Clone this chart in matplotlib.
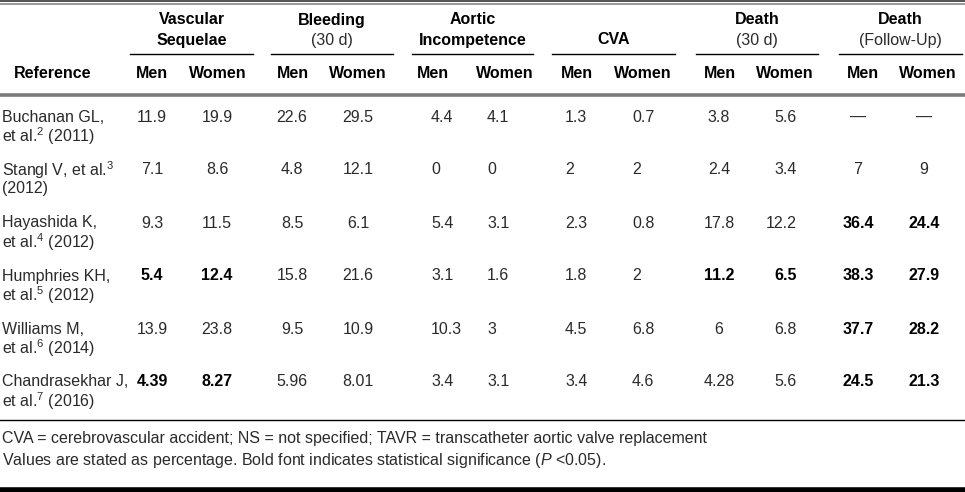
import matplotlib.pyplot as plt

plt.rcParams['font.family'] = ['Liberation Sans', 'DejaVu Sans']
plt.rcParams['mathtext.fontset'] = 'custom'
plt.rcParams['mathtext.rm'] = 'Liberation Sans'
plt.rcParams['mathtext.it'] = 'Liberation Sans:italic'
plt.rcParams['mathtext.bf'] = 'Liberation Sans:bold'

# table content
groups = ['Vascular\nSequelae', 'Bleeding', 'Aortic\nIncompetence', 'CVA', 'Death', 'Death']
group_sub = ['', '(30 d)', '', '', '(30 d)', '(Follow-Up)']

ref_line1 = ['Buchanan GL,', 'Stangl V, et al.$^{3}$', 'Hayashida K,',
             'Humphries KH,', 'Williams M,', 'Chandrasekhar J,']
ref_line2 = ['et al.$^{2}$ (2011)', '(2012)', 'et al.$^{4}$ (2012)',
             'et al.$^{5}$ (2012)', 'et al.$^{6}$ (2014)', 'et al.$^{7}$ (2016)']

vasc_men = ['11.9', '7.1', '9.3', '5.4', '13.9', '4.39']
vasc_women = ['19.9', '8.6', '11.5', '12.4', '23.8', '8.27']
bleed_men = ['22.6', '4.8', '8.5', '15.8', '9.5', '5.96']
bleed_women = ['29.5', '12.1', '6.1', '21.6', '10.9', '8.01']
aortic_men = ['4.4', '0', '5.4', '3.1', '10.3', '3.4']
aortic_women = ['4.1', '0', '3.1', '1.6', '3', '3.1']
cva_men = ['1.3', '2', '2.3', '1.8', '4.5', '3.4']
cva_women = ['0.7', '2', '0.8', '2', '6.8', '4.6']
death30_men = ['3.8', '2.4', '17.8', '11.2', '6', '4.28']
death30_women = ['5.6', '3.4', '12.2', '6.5', '6.8', '5.6']
deathfu_men = ['\u2014', '7', '36.4', '38.3', '37.7', '24.5']
deathfu_women = ['\u2014', '9', '24.4', '27.9', '28.2', '21.3']

# rows with statistical significance (bold)
vasc_bold = [3, 5]
death30_bold = [3]
deathfu_bold = [2, 3, 4, 5]

footnotes = ['CVA = cerebrovascular accident; NS = not specified; TAVR = transcatheter aortic valve replacement',
             'Values are stated as percentage. Bold font indicates statistical significance ($\\it{P}$ <0.05).']

columns = [vasc_men, vasc_women, bleed_men, bleed_women, aortic_men, aortic_women,
           cva_men, cva_women, death30_men, death30_women, deathfu_men, deathfu_women]
bold_rows = [vasc_bold, vasc_bold, [], [], [], [], [], [], death30_bold, death30_bold,
             deathfu_bold, deathfu_bold]

# layout (pixel coords)
col_x = [152, 217, 292, 358, 431, 487, 565, 632, 719, 797, 858, 924]
col_ha = ['center', 'center', 'center', 'center', 'left', 'left', 'left', 'left',
          'center', 'right', 'center', 'center']
head_x = [152, 218, 293, 358, 433, 505, 577, 643, 720, 785, 863, 928]
group_span = [(130, 253), (271, 393), (412, 533), (552, 675), (696, 818), (839, 962)]

fs = 11.5
txt = '#2a2a2a'

fig = plt.figure(figsize=(9.65, 4.92), dpi=100)
ax = fig.add_axes([0, 0, 1, 1])
ax.set_xlim(0, 965)
ax.set_ylim(492, 0)
ax.axis('off')

# rules
ax.plot([0, 965], [0.8, 0.8], color='#444444', lw=1.3)
ax.plot([0, 965], [4, 4], color='#888888', lw=1.2)
ax.plot([0, 965], [95, 95], color='#7a7a7a', lw=2.6)
ax.plot([0, 965], [420, 420], color='black', lw=1.0)
ax.plot([0, 965], [489.5, 489.5], color='black', lw=4)

# group headers
for (x0, x1), g, s in zip(group_span, groups, group_sub):
    xc = (x0 + x1) / 2
    ax.plot([x0, x1], [54, 54], color='black', lw=1.0)
    if '\n' in g:
        a, b = g.split('\n')
        ax.text(xc, 20, a, ha='center', va='center', fontsize=fs, fontweight='bold', color='black')
        ax.text(xc, 40, b, ha='center', va='center', fontsize=fs, fontweight='bold', color='black')
    elif s:
        ax.text(xc, 20, g, ha='center', va='center', fontsize=fs, fontweight='bold', color='black')
        ax.text(xc, 40, s, ha='center', va='center', fontsize=fs, color=txt)
    else:
        ax.text(xc, 40, g, ha='center', va='center', fontsize=fs, fontweight='bold', color='black')

ax.text(14, 74, 'Reference', ha='left', va='center', fontsize=fs, fontweight='bold', color='black')
for i, x in enumerate(head_x):
    ax.text(x, 74, 'Men' if i % 2 == 0 else 'Women', ha='center', va='center',
            fontsize=fs, fontweight='bold', color='black')

# body
for r in range(len(ref_line1)):
    y = 117 + 53 * r
    ax.text(2, y, ref_line1[r], ha='left', va='center', fontsize=fs, color=txt)
    ax.text(2, y + 19, ref_line2[r], ha='left', va='center', fontsize=fs, color=txt)
    for c, vals in enumerate(columns):
        bold = r in bold_rows[c]
        ax.text(col_x[c], y, vals[r], ha=col_ha[c], va='center', fontsize=fs,
                fontweight='bold' if bold else 'normal', color='black' if bold else txt)

ax.text(2, 438, footnotes[0], ha='left', va='center', fontsize=fs, color=txt)
ax.text(2, 461, footnotes[1], ha='left', va='center', fontsize=fs, color=txt)

fig.savefig('out.png', dpi=100)
